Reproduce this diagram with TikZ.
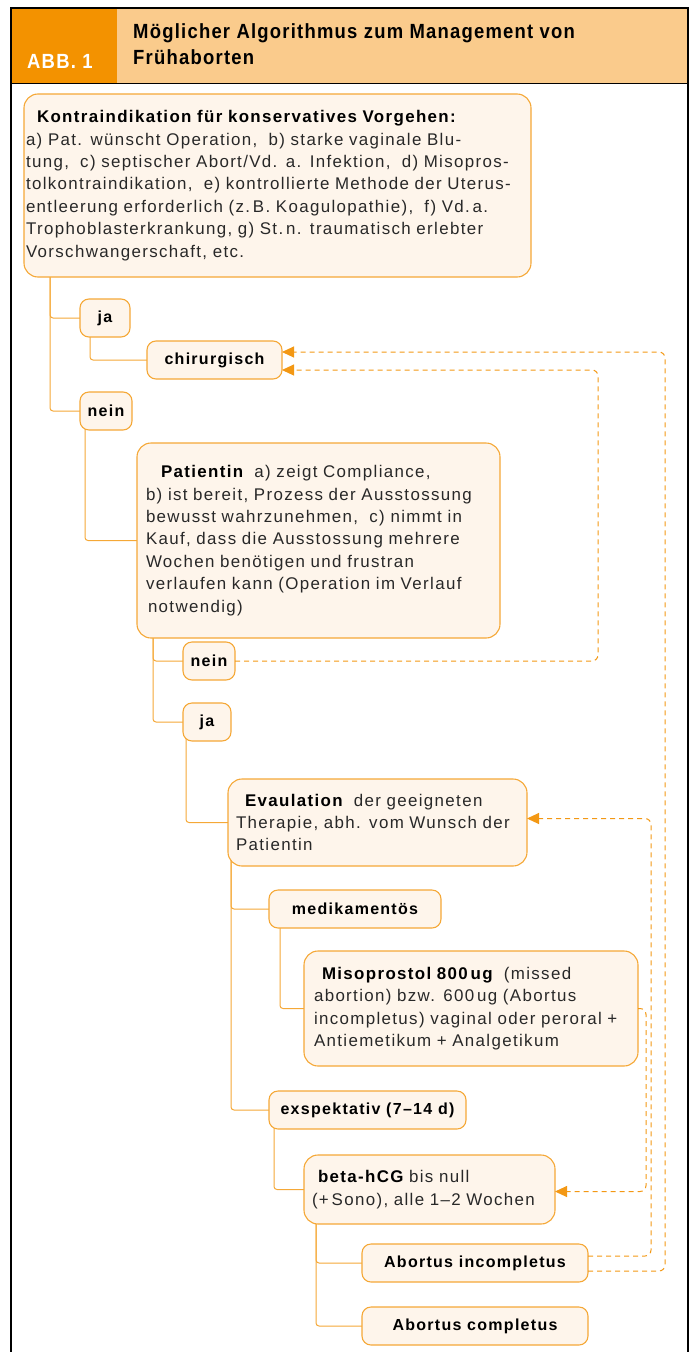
\documentclass[tikz,border=0pt]{standalone}
\usepackage{fontspec}
\setmainfont{Liberation Sans}[LetterSpace=8]
\newfontfamily\headfont[FakeStretch=0.9,LetterSpace=6]{Liberation Sans}
\usetikzlibrary{arrows.meta,positioning,backgrounds}
\definecolor{AbbOrange}{RGB}{243,146,0}
\definecolor{SoftOrange}{RGB}{250,203,140}
\definecolor{BoxCream}{RGB}{254,245,235}
\definecolor{LineOrange}{RGB}{245,168,55}
\definecolor{DashOrange}{RGB}{243,152,20}
\definecolor{TextGrey}{RGB}{40,40,40}

\begin{document}
\begin{tikzpicture}[x=1pt,y=-1pt,>={Triangle[length=12pt,width=11pt]},
  box/.style={draw=LineOrange,fill=BoxCream,line width=1.1pt,rounded corners=14pt,outer sep=0pt,text=TextGrey,
    align=left,anchor=north west,inner ysep=0pt,font=\fontsize{16.9}{22.4}\selectfont},
  tag/.style={draw=LineOrange,fill=BoxCream,line width=1.1pt,rounded corners=9pt,outer sep=0pt,
    anchor=north west,minimum height=38pt,inner sep=2pt,font=\fontsize{16}{20}\selectfont\bfseries},
  tree/.style={LineOrange,line width=1pt,rounded corners=3pt},
  back/.style={DashOrange,line width=1pt,dash pattern=on 5pt off 4pt,rounded corners=6pt,->}]
\useasboundingbox (0,0) rectangle (691,1352);

% header
\fill[AbbOrange] (11,8) rectangle (117,83);
\fill[SoftOrange] (117,8) rectangle (688,83);
\draw[line width=1.6pt] (11,1352) -- (11,8) -- (688,8) -- (688,1352);
\draw[line width=1pt] (11,83) -- (688,83);
\node[anchor=base west,inner sep=0pt,text=white,font=\headfont\bfseries\fontsize{20.5}{26}\selectfont] (abb) at (27,68) {ABB. 1};
\node[anchor=north west,align=left,inner sep=0pt,font=\headfont\bfseries\fontsize{20.5}{26}\selectfont] (title) at (133,23)
  {Möglicher Algorithmus zum Management von\\Frühaborten};

% boxes
\node[box,text width=503pt,minimum height=183pt,inner xsep=2pt] (kontra) at (24,94)
  {\hspace*{11pt}\textbf{\color{black}Kontraindikation für konservatives Vorgehen:}\\
   a) Pat. wünscht Operation,\ \ b) starke vaginale Blu-\\
   tung,\ \ c) septischer Abort/Vd. a. Infektion,\ \ d) Misopros-\\
   tolkontraindikation,\ \ e) kontrollierte Methode der Uterus-\\
   entleerung erforderlich (z.\,B. Koagulopathie),\ \ f) Vd.\,a.\\
   Trophoblasterkrankung, g) St.\,n. traumatisch erlebter\\
   Vorschwangerschaft, etc.};
\node[tag,minimum width=50pt,below right=22pt and 56pt of kontra.south west] (ja1) {ja};
\node[tag,minimum width=135pt,below right=4pt and 67pt of ja1.south west] (chir) {chirurgisch};
\node[tag,minimum width=52pt,below right=55pt and 0pt of ja1.south west] (nein1) {nein};
\node[box,text width=345pt,minimum height=195pt,inner xsep=9pt,below right=13pt and 57pt of nein1.south west] (pat)
  {\hspace*{15pt}\textbf{\color{black}Patientin}\ \ a) zeigt Compliance,\\
   b) ist bereit, Prozess der Ausstossung\\
   bewusst wahrzunehmen,\ \ c) nimmt in\\
   Kauf, dass die Ausstossung mehrere\\
   Wochen benötigen und frustran\\
   verlaufen kann (Operation im Verlauf\\
   \hspace*{2pt}notwendig)};
\node[tag,minimum width=52pt,below right=4pt and 46pt of pat.south west] (nein2) {nein};
\node[tag,minimum width=48pt,below right=23pt and 0pt of nein2.south west] (ja2) {ja};
\node[box,text width=283pt,minimum height=87pt,inner xsep=8pt,below right=38pt and 45pt of ja2.south west] (evau)
  {\hspace*{9pt}\textbf{\color{black}Evaulation}\ \ der geeigneten\\
   Therapie, abh. vom Wunsch der\\
   Patientin};
\node[tag,minimum width=172pt,below right=24pt and 41pt of evau.south west] (medi) {medikamentös};
\node[box,text width=314pt,minimum height=115pt,inner xsep=10pt,below right=23pt and 35pt of medi.south west] (miso)
  {\hspace*{8pt}\textbf{\color{black}Misoprostol 800\,ug}\ \ (missed\\
   abortion) bzw. 600\,ug (Abortus\\
   incompletus) vaginal oder peroral +\\
   Antiemetikum + Analgetikum};
\node[tag,minimum width=197pt,below right=163pt and 0pt of medi.south west] (expe) {exspektativ (7–14 d)};
\node[box,text width=235pt,minimum height=69pt,inner xsep=8pt,below right=26pt and 35pt of expe.south west] (beta)
  {\hspace*{6pt}\textbf{\color{black}beta-hCG} bis null\\
   (+\,Sono), alle 1–2 Wochen};
\node[tag,minimum width=226pt,below right=20pt and 58pt of beta.south west] (inc) {Abortus incompletus};
\node[tag,minimum width=226pt,below right=25pt and 0pt of inc.south west] (comp) {Abortus completus};

% tree lines
\begin{scope}[on background layer]
\draw[tree] ([shift={(26pt,10pt)}]kontra.south west) |- (ja1.west);
\draw[tree] ([shift={(26pt,10pt)}]kontra.south west) |- (nein1.west);
\draw[tree] ([shift={(10pt,10pt)}]ja1.south west) |- (chir.west);
\draw[tree] ([shift={(5pt,10pt)}]nein1.south west) |- (pat.west);
\draw[tree] ([shift={(16pt,10pt)}]pat.south west) |- (nein2.west);
\draw[tree] ([shift={(16pt,10pt)}]pat.south west) |- (ja2.west);
\draw[tree] ([shift={(3pt,10pt)}]ja2.south west) |- (evau.west);
\draw[tree] ([shift={(3pt,10pt)}]evau.south west) |- (medi.west);
\draw[tree] ([shift={(3pt,10pt)}]evau.south west) |- (expe.west);
\draw[tree] ([shift={(11pt,10pt)}]medi.south west) |- (miso.west);
\draw[tree] ([shift={(5pt,10pt)}]expe.south west) |- (beta.west);
\draw[tree] ([shift={(12pt,10pt)}]beta.south west) |- (inc.west);
\draw[tree] ([shift={(12pt,10pt)}]beta.south west) |- (comp.west);
\end{scope}

% way back
\draw[back] (nein2.east) -- ++(363,0) |- ([yshift=-10pt]chir.east);
\draw[back] ([yshift=-8pt]inc.east) -- ++(77,0) |- ([yshift=8pt]chir.east);
\draw[back] ([yshift=7pt]inc.east) -- ++(63,0) |- ([yshift=4pt]evau.east);
\draw[back] (miso.east) -- ++(8,0) |- ([yshift=-2pt]beta.east);
\end{tikzpicture}
\end{document}
